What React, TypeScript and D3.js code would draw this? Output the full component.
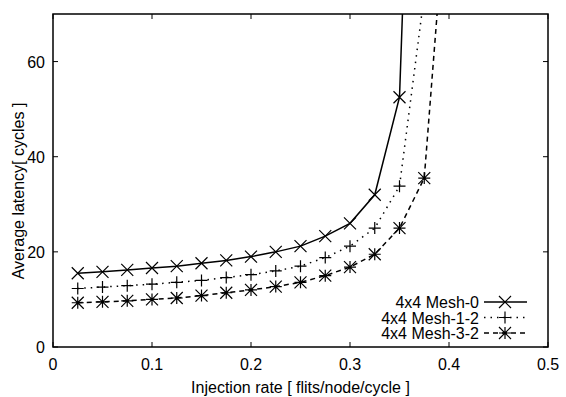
import React from "react";
import * as d3 from "d3";

const xValues = [0.025, 0.05, 0.075, 0.1, 0.125, 0.15, 0.175, 0.2, 0.225, 0.25, 0.275, 0.3, 0.325, 0.35, 0.375, 0.4];
const mesh0 = [15.5, 15.8, 16.2, 16.6, 17.0, 17.6, 18.2, 19.0, 20.0, 21.2, 23.3, 26.0, 32.0, 52.5, 200];
const mesh12 = [12.3, 12.6, 12.9, 13.2, 13.6, 14.0, 14.6, 15.2, 16.0, 17.0, 18.8, 21.2, 25.0, 33.8, 74];
const mesh32 = [9.3, 9.5, 9.7, 10.0, 10.3, 10.8, 11.4, 12.0, 12.7, 13.6, 15.0, 16.8, 19.5, 25.0, 35.5, 102];
const seriesNames = ["4x4 Mesh-0", "4x4 Mesh-1-2", "4x4 Mesh-3-2"];
const xTicks = [0, 0.1, 0.2, 0.3, 0.4, 0.5];
const yTicks = [0, 20, 40, 60];
const xTitle = "Injection rate [ flits/node/cycle ]";
const yTitle = "Average latency[ cycles ]";

const W = 566, H = 397;
const L = 53, R = 548, T = 14, B = 347;
const font = "'Liberation Sans', Arial, sans-serif";
const FS = 16;

function Marker({ kind, x, y }: { kind: string; x: number; y: number }) {
  const s = 6;
  const parts: string[] = [];
  if (kind === "x" || kind === "star") parts.push(`M${x - s},${y - s}L${x + s},${y + s}M${x - s},${y + s}L${x + s},${y - s}`);
  if (kind === "plus" || kind === "star") parts.push(`M${x - s},${y}L${x + s},${y}M${x},${y - s}L${x},${y + s}`);
  return <path d={parts.join("")} stroke="#000" strokeWidth={1.2} fill="none" />;
}

export default function App() {
  const x = d3.scaleLinear().domain([0, 0.5]).range([L, R]);
  const y = d3.scaleLinear().domain([0, 70]).range([B, T]);
  const series = [
    { name: seriesNames[0], values: mesh0, kind: "x", dash: "none" },
    { name: seriesNames[1], values: mesh12, kind: "plus", dash: "1.5,5" },
    { name: seriesNames[2], values: mesh32, kind: "star", dash: "5,4" },
  ];
  const line = d3.line<number>().x((_, i) => x(xValues[i])).y((d) => y(d));
  return (
    <svg width={W} height={H} style={{ position: "absolute", left: 0, top: 0 }} fontFamily={font}>
      <rect width={W} height={H} fill="#fff" />
      <defs>
        <clipPath id="plot"><rect x={L} y={T} width={R - L} height={B - T} /></clipPath>
      </defs>
      {xTicks.map((t) => (
        <g key={"x" + t}>
          <line x1={x(t)} x2={x(t)} y1={B} y2={B - 5} stroke="#000" />
          <line x1={x(t)} x2={x(t)} y1={T} y2={T + 5} stroke="#000" />
          <text x={x(t)} y={B + 23} textAnchor="middle" fontSize={FS}>{t === 0 ? "0" : String(t)}</text>
        </g>
      ))}
      {yTicks.map((t) => (
        <g key={"y" + t}>
          <line x1={L} x2={L + 5} y1={y(t)} y2={y(t)} stroke="#000" />
          <line x1={R} x2={R - 5} y1={y(t)} y2={y(t)} stroke="#000" />
          <text x={L - 8} y={y(t) + 6} textAnchor="end" fontSize={FS}>{t}</text>
        </g>
      ))}
      <g clipPath="url(#plot)">
        {series.map((s) => (
          <g key={s.name}>
            <path d={line(s.values) || ""} stroke="#000" strokeWidth={1.5} fill="none" strokeDasharray={s.dash} />
            {s.values.map((v, i) => <Marker key={i} kind={s.kind} x={x(xValues[i])} y={y(v)} />)}
          </g>
        ))}
      </g>
      <rect x={L} y={T} width={R - L} height={B - T} fill="none" stroke="#000" strokeWidth={1.5} />
      {series.map((s, i) => {
        const ly = 302 + i * 15.5;
        return (
          <g key={"lg" + i}>
            <text x={479} y={ly + 6} textAnchor="end" fontSize={FS}>{s.name}</text>
            <line x1={484} x2={527} y1={ly} y2={ly} stroke="#000" strokeWidth={1.5} strokeDasharray={s.dash} />
            <Marker kind={s.kind} x={505} y={ly} />
          </g>
        );
      })}
      <text x={(L + R) / 2} y={393} textAnchor="middle" fontSize={FS}>{xTitle}</text>
      <text transform={`translate(24,191) rotate(-90)`} textAnchor="middle" fontSize={FS}>{yTitle}</text>
    </svg>
  );
}
